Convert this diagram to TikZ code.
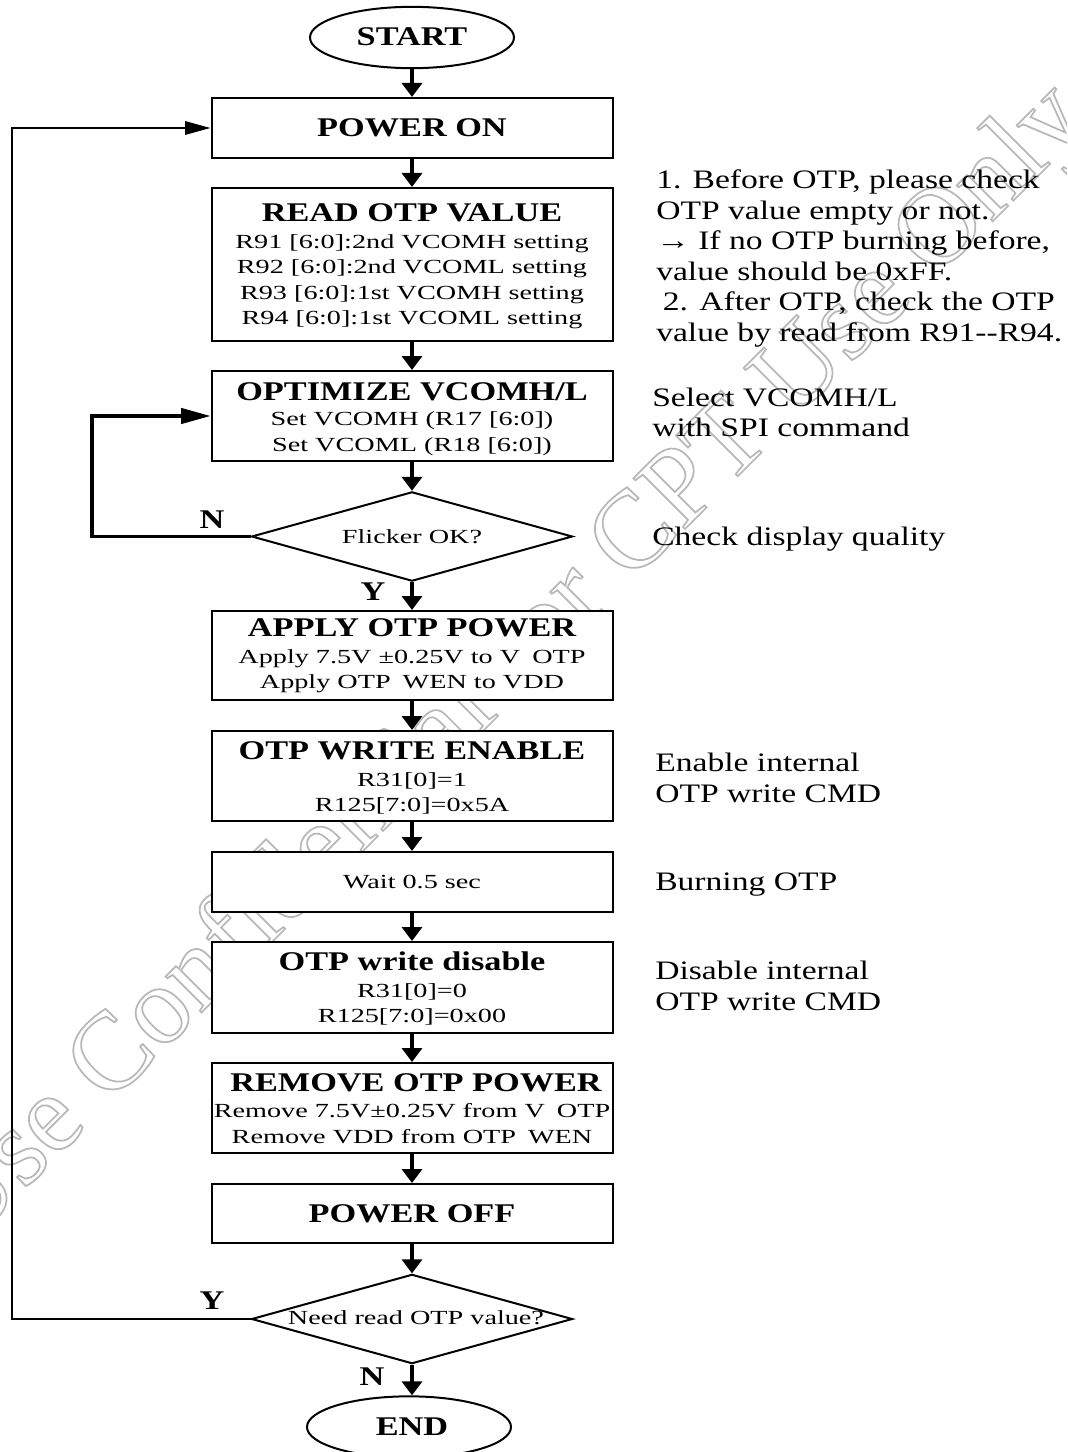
\documentclass[tikz,border=0pt]{standalone}
\usepackage{fontspec}
\usetikzlibrary{shapes.geometric,arrows.meta}
\setmainfont{Liberation Serif}[FakeStretch=1.41]
\newfontfamily\hdgfam{Liberation Serif}[FakeStretch=1.27]
\newfontfamily\notefam{Liberation Serif}[FakeStretch=1.26]
\newfontfamily\wmfam{Liberation Serif}
\newcommand{\hdgf}{\hdgfam\bfseries\fontsize{20.25}{19}\selectfont}
\newcommand{\bodyf}{\fontsize{15}{19}\selectfont}
\newcommand{\notef}{\notefam\fontsize{20}{22.9}\selectfont}
\newcommand{\tstrut}{\rule{0pt}{16pt}}
\definecolor{wmgray}{gray}{0.72}
\tikzset{
  box/.style={draw,line width=1.5pt,fill=white,rectangle,inner sep=0pt,minimum width=300.75pt,align=center,font=\bodyf},
  term/.style={draw,line width=1.5pt,fill=white,ellipse,inner sep=0pt,minimum width=153pt,minimum height=46pt,font=\hdgf},
  dec/.style={draw,line width=1.5pt,fill=white,diamond,inner sep=0pt,minimum width=240.75pt,minimum height=67pt,shape aspect=3.6},
  dectext/.style={font=\bodyf,inner sep=0pt},
  flow/.style={line width=3.7pt,-{Triangle[length=10.5pt,width=15pt]}},
  loopthin/.style={line width=1.5pt,-{Triangle[length=19pt,width=10pt]}},
  loopthick/.style={line width=2.4pt,-{Triangle[length=22pt,width=11.5pt]}},
  lbl/.style={font=\hdgf,inner sep=0pt},
  note/.style={anchor=west,align=left,inner sep=0pt,font=\notef},
  wm/.style={anchor=base west,inner sep=0pt,rotate=45,text=wmgray,font=\wmfam\fontsize{83}{83}\selectfont},
}
\begin{document}
\begin{tikzpicture}[x=0.75pt,y=-0.75pt]
\useasboundingbox (0,0) rectangle (1067,1452);
\fill[white] (0,0) rectangle (1067,1452);
% watermark (hollow letters)
\begin{scope}
\clip (0,0) rectangle (1067,1452);
\color{wmgray}
\node[wm] (mark) at (-33,1247) {\special{pdf:code 1 Tr 1.3 w}Use Confidential for CPT Use Only\special{pdf:code 0 Tr 0.75 w}};
\end{scope}
\color{black}
% flow
\node[term] (start) at (412,37.5) {\raisebox{1.5pt}{START}};
\node[box,minimum height=45pt] (pwron) at (412,128) {\hdgf POWER ON};
\node[box,minimum height=114.75pt] (read) at (412,264.5) {{\tstrut\hdgf READ OTP VALUE}\\[1pt]
R91 [6:0]:2nd VCOMH setting\\R92 [6:0]:2nd VCOML setting\\R93 [6:0]:1st VCOMH setting\\R94 [6:0]:1st VCOML setting};
\node[box,minimum height=67.5pt] (opt) at (412,416) {{\rule{0pt}{18pt}\hdgf OPTIMIZE VCOMH/L}\\[0pt]
Set VCOMH (R17 [6:0])\\Set VCOML (R18 [6:0])};
\node[dec] (flick) at (412,536.5) {};
\node[dectext] (flicktxt) at (412,536.5) {Flicker OK?};
\node[box,minimum height=66.75pt] (apply) at (412,655.5) {{\rule{0pt}{14pt}\hdgf APPLY OTP POWER}\\[1pt]
Apply 7.5V ±0.25V to V\hspace{0.6em}OTP\\Apply OTP\hspace{0.6em}WEN to VDD};
\node[box,minimum height=67.5pt] (wen) at (412,776) {{\tstrut\hdgf OTP WRITE ENABLE}\\[1pt]
R31[0]=1\\R125[7:0]=0x5A};
\node[box,minimum height=45pt] (wait) at (412,882) {Wait 0.5 sec};
\node[box,minimum height=68.25pt] (wdis) at (412,987.5) {{\tstrut\hdgf OTP write disable}\\[1pt]
R31[0]=0\\R125[7:0]=0x00};
\node[box,minimum height=67.5pt] (rem) at (412,1108) {{\rule{0pt}{14pt}\hdgf\hspace{6pt}REMOVE OTP POWER}\\[1pt]
\makebox[0pt][c]{Remove 7.5V±0.25V from V\hspace{0.6em}OTP}\\Remove VDD from OTP\hspace{0.6em}WEN};
\node[box,minimum height=44.25pt] (pwroff) at (412,1213.5) {\hdgf POWER OFF};
\node[dec] (need) at (412,1319) {};
\node[dectext] (needtxt) at (416,1318) {Need read OTP value?};
\node[term] (end) at (409,1427) {\hspace{4.5pt}END};
% connectors
\draw[flow] (start.south) -- (pwron.north);
\draw[flow] (pwron.south) -- (read.north);
\draw[flow] (read.south) -- (opt.north);
\draw[flow] (opt.south) -- (flick.north);
\draw[flow] (flick.south) -- (apply.north);
\draw[flow] (apply.south) -- (wen.north);
\draw[flow] (wen.south) -- (wait.north);
\draw[flow] (wait.south) -- (wdis.north);
\draw[flow] (wdis.south) -- (rem.north);
\draw[flow] (rem.south) -- (pwroff.north);
\draw[flow] (pwroff.south) -- (need.north);
\draw[flow] (need.south) -- (need.south |- end.north);
\coordinate (c1) at (92,536.5);
\draw[loopthick] (flick.west) -- (c1) |- (opt.west);
\coordinate (c2) at (12,1319);
\draw[loopthin] (need.west) -- (c2) |- (pwron.west);
% branch labels
\node[lbl] (ln1) at (212,520) {N};
\node[lbl] (ly1) at (373,592) {Y};
\node[lbl] (ly2) at (212,1301) {Y};
\node[lbl] (ln2) at (372,1377) {N};
% side notes
\node[note] (n1) at (656,258.5) {1. Before OTP, please check\\OTP value empty or not.\\→ If no OTP burning before,\\value should be 0xFF.\\\hspace{0.25em}2. After OTP, check the OTP\\value by read from R91--R94.};
\node[note] (n2) at (652,412.5) {Select VCOMH/L\\with SPI command};
\node[note] (n3) at (652,539) {Check display quality};
\node[note] (n4) at (655,778) {Enable internal\\OTP write CMD};
\node[note] (n5) at (655,885) {Burning OTP};
\node[note] (n6) at (655,986) {Disable internal\\OTP write CMD};
\end{tikzpicture}
\end{document}
